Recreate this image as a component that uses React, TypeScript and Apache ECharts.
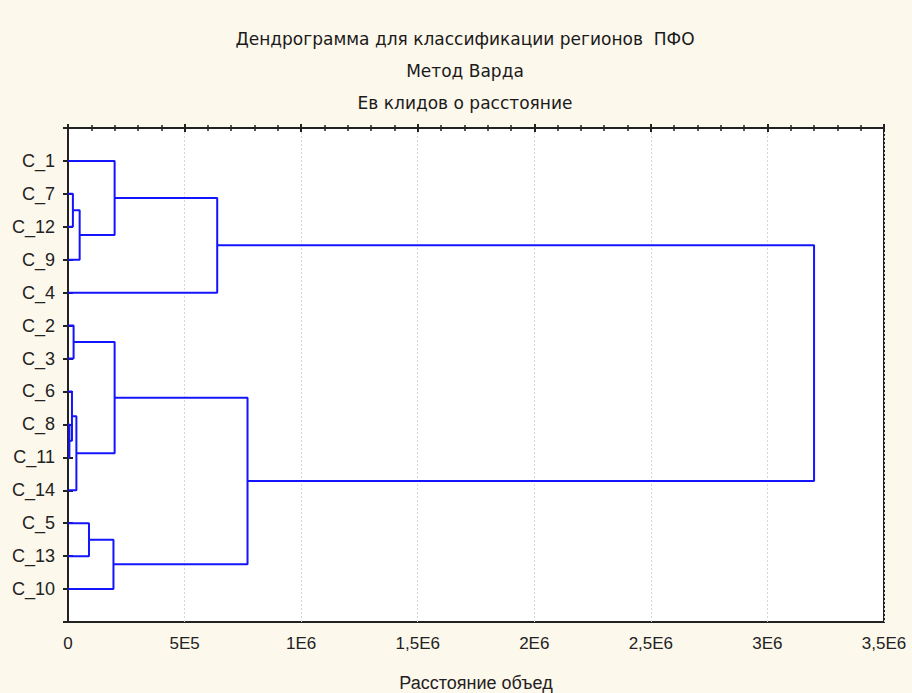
import React, { useEffect, useRef } from "react";
import * as echarts from "echarts";

// Leaf order top to bottom
const leaves: string[] = ["C_1", "C_7", "C_12", "C_9", "C_4", "C_2", "C_3", "C_6", "C_8", "C_11", "C_14", "C_5", "C_13", "C_10"];

// Linkage: [childA, childB, distance]; indices < 14 are leaves, 14+ are clusters in order
const linkA: number[] = [8, 7, 1, 5, 15, 16, 11, 20, 0, 17, 22, 23, 24];
const linkB: number[] = [9, 14, 2, 6, 10, 3, 12, 13, 19, 18, 4, 21, 25];
const linkDist: number[] = [6000, 17000, 21000, 24000, 36000, 50000, 90000, 195000, 200000, 200000, 640000, 770000, 3200000];

const xTicks: string[] = ["0", "5E5", "1E6", "1,5E6", "2E6", "2,5E6", "3E6", "3,5E6"];

const titleLines: string[] = [
  "Дендрограмма для классификации регионов  ПФО",
  "Метод Варда",
  "Ев клидов о расстояние",
];
const xName = "Расстояние объед";

export default function App() {
  const ref = useRef<HTMLDivElement>(null);
  useEffect(() => {
    if (!ref.current) return;
    const chart = echarts.init(ref.current, null, { renderer: "svg" });
    const n = leaves.length;
    const pos: number[] = leaves.map((_, i) => i + 1);
    const height: number[] = leaves.map(() => 0);
    const series: any[] = [];
    linkA.forEach((a, k) => {
      const b = linkB[k];
      const d = linkDist[k];
      const ya = pos[a];
      const yb = pos[b];
      series.push({
        type: "line",
        data: [
          [height[a], ya],
          [d, ya],
          [d, yb],
          [height[b], yb],
        ],
        symbol: "none",
        lineStyle: { color: "#1414ff", width: 2 },
        silent: true,
      });
      pos[n + k] = (ya + yb) / 2;
      height[n + k] = d;
    });

    const labelFont = "'Liberation Sans', Arial, sans-serif";
    const axisColor = "#222";
    chart.setOption({
      animation: false,
      backgroundColor: "#fdf8ec",
      title: titleLines.map((t, i) => ({
        text: t,
        left: 460,
        textAlign: "center",
        top: 25 + i * 32,
        textStyle: { fontFamily: "'DejaVu Sans', sans-serif", fontSize: 17, fontWeight: "normal", color: "#1a1a1a" },
      })),
      grid: {
        left: 68,
        right: 28,
        top: 128,
        bottom: 71,
        show: true,
        outerBoundsMode: "none",
        containLabel: false,
        backgroundColor: "#ffffff",
        borderColor: axisColor,
        borderWidth: 2,
      },
      xAxis: [
        {
          type: "value",
          min: 0,
          max: 3500000,
          interval: 500000,
          position: "bottom",
          name: xName,
          nameLocation: "middle",
          nameGap: 52,
          nameTextStyle: { fontFamily: labelFont, fontSize: 18, color: axisColor },
          axisLine: { show: true, lineStyle: { color: axisColor, width: 2 } },
          axisTick: { show: true, inside: true, length: 4, lineStyle: { color: axisColor, width: 2 } },
          minorTick: { show: true, splitNumber: 5, length: 3, lineStyle: { color: axisColor, width: 1.5 } },
          splitLine: { show: true, lineStyle: { color: "#d6d6d6", type: [2, 2], width: 1 } },
          axisLabel: {
            margin: 13,
            fontFamily: labelFont,
            fontSize: 17,
            color: axisColor,
            formatter: (v: number) => xTicks[Math.round(v / 500000)] ?? "",
          },
        },
        {
          type: "value",
          min: 0,
          max: 3500000,
          interval: 500000,
          position: "top",
          axisLine: { show: true, lineStyle: { color: axisColor, width: 2 } },
          axisTick: { show: true, inside: true, length: 4, lineStyle: { color: axisColor, width: 2 } },
          minorTick: { show: true, splitNumber: 5, length: 3, lineStyle: { color: axisColor, width: 1.5 } },
          splitLine: { show: false },
          axisLabel: { show: false },
        },
      ],
      yAxis: [
        {
          type: "value",
          inverse: true,
          min: 0,
          max: 15,
          interval: 1,
          position: "left",
          axisLine: { show: true, lineStyle: { color: "#333", width: 2 } },
          axisTick: { show: true, inside: true, length: 5, lineStyle: { color: axisColor, width: 2 } },
          splitLine: { show: false },
          axisLabel: {
            margin: 13,
            fontFamily: labelFont,
            fontSize: 18,
            color: axisColor,
            formatter: (v: number) => (v >= 1 && v <= n ? leaves[v - 1] : ""),
          },
        },
        {
          type: "value",
          inverse: true,
          min: 0,
          max: 15,
          interval: 1,
          position: "right",
          axisLine: { show: true, lineStyle: { color: axisColor, width: 2 } },
          axisTick: { show: true, inside: true, length: 5, lineStyle: { color: axisColor, width: 2 } },
          splitLine: { show: false },
          axisLabel: { show: false },
        },
      ],
      series,
    });
    return () => chart.dispose();
  }, []);
  return (
    <div
      ref={ref}
      style={{ position: "absolute", left: 0, top: 0, width: 912, height: 693 }}
    />
  );
}
